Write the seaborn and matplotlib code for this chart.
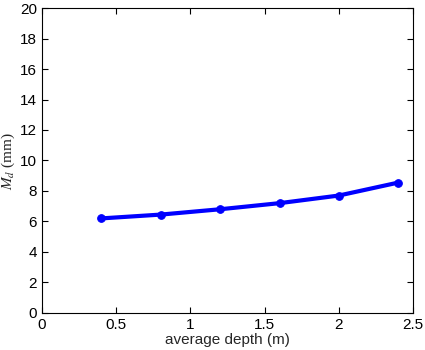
import matplotlib
matplotlib.use("Agg")
import matplotlib.pyplot as plt
import seaborn as sns
import pandas as pd

depth = [0.4, 0.8, 1.2, 1.6, 2.0, 2.4]
md = [6.2, 6.45, 6.8, 7.2, 7.7, 8.55]
xticks = [0, 0.5, 1, 1.5, 2, 2.5]
xticklabels = ["0", "0.5", "1", "1.5", "2", "2.5"]
yticks = list(range(0, 21, 2))

sns.set_style("ticks")
plt.rcParams['font.family'] = ['Liberation Sans', 'DejaVu Sans']
plt.rcParams['mathtext.fontset'] = 'stix'

df = pd.DataFrame({"depth": depth, "md": md})
fig = plt.figure(figsize=(4.25, 3.5), dpi=100)
ax = fig.add_axes([0.099, 0.106, 0.873, 0.871])
sns.lineplot(data=df, x="depth", y="md", ax=ax, color="#0000ff", linewidth=3,
             marker="o", markersize=5.5, markeredgecolor="#0000ff")
ax.set_xlim(0, 2.5)
ax.set_ylim(0, 20)
ax.set_xticks(xticks)
ax.set_xticklabels(xticklabels)
ax.set_yticks(yticks)
ax.tick_params(direction="in", top=True, right=True, labelsize=11, length=4, width=0.8, colors="black")
for s in ax.spines.values():
    s.set_linewidth(0.8)
    s.set_color("black")
ax.set_xlabel("average depth (m)", fontsize=11, labelpad=1)
ax.set_ylabel(r"$M_d$ (mm)", fontsize=11, family="Liberation Serif")
ax.yaxis.set_label_coords(-0.068, 0.5)
fig.savefig("out.png", dpi=100)
